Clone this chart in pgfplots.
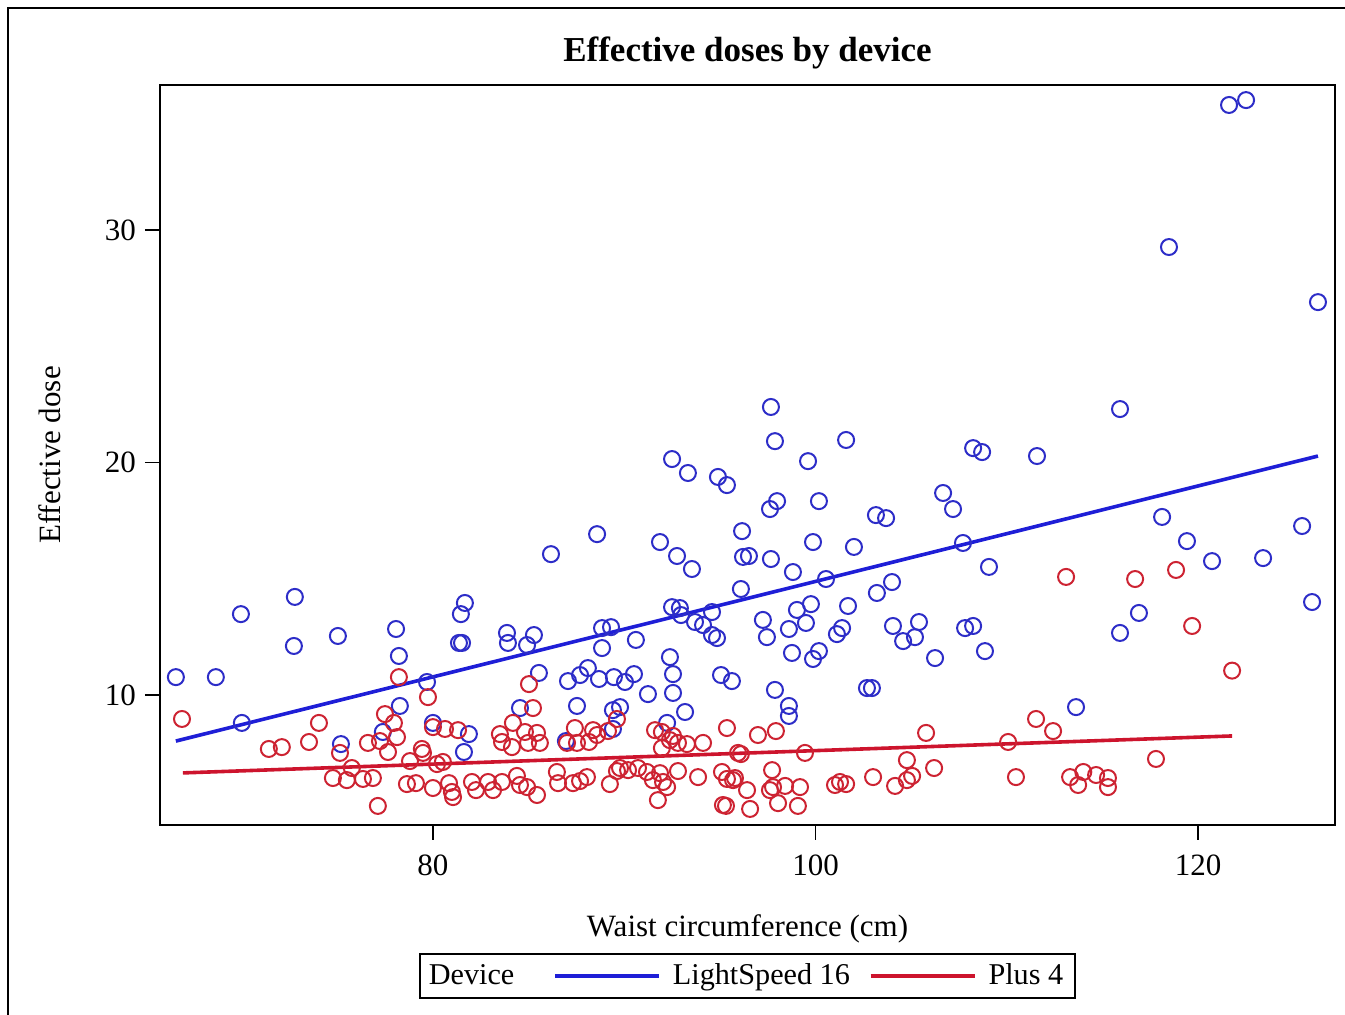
\documentclass[border=0pt]{standalone}
\usepackage{fontspec}
\setmainfont{Liberation Serif}
\usepackage{pgfplots}
\usepackage{pgfplotstable}
\pgfplotsset{compat=1.18}
\definecolor{bluem}{RGB}{45,45,200}
\definecolor{bluel}{RGB}{30,30,215}
\definecolor{redm}{RGB}{205,35,50}
\definecolor{redl}{RGB}{205,20,45}
\pgfplotstableread{
x y
66.56 10.77
68.65 10.77
69.96 13.48
70.01 8.80
72.78 14.22
72.73 12.11
75.03 12.54
75.19 7.89
78.07 12.84
78.22 11.68
78.27 9.53
79.69 10.56
80.00 8.80
77.38 8.41
81.46 13.48
81.67 13.96
81.36 12.24
81.52 12.24
81.62 7.55
81.88 8.32
83.87 12.67
83.92 12.24
84.92 12.15
85.28 12.58
85.54 10.95
86.17 16.06
84.55 9.44
86.95 8.02
87.06 10.60
87.53 9.53
87.69 10.86
88.10 11.16
88.58 16.92
88.84 12.88
88.84 12.02
88.68 10.69
89.31 12.92
89.46 10.77
89.41 9.35
89.78 9.48
89.41 8.54
90.04 10.56
90.61 12.37
90.51 10.90
91.24 10.04
91.87 16.58
92.24 8.80
92.39 11.63
92.50 20.15
92.50 13.78
92.55 10.90
92.55 10.09
92.76 15.98
92.91 13.74
92.97 13.44
93.18 9.27
93.33 19.55
93.54 15.42
93.70 13.14
94.12 13.01
94.59 13.57
94.59 12.58
94.85 12.45
94.90 19.38
95.06 10.86
95.37 19.03
95.63 10.60
96.10 14.56
96.16 17.05
96.21 15.94
96.52 15.98
97.25 13.23
97.46 12.49
97.67 22.39
97.62 18.00
97.67 15.85
97.88 20.92
97.88 10.22
97.99 18.34
98.61 12.84
98.61 9.53
98.61 9.10
98.77 11.81
98.82 15.29
99.03 13.66
99.50 13.10
99.61 20.06
99.76 13.91
99.87 16.58
99.87 11.55
100.18 11.89
100.18 18.34
100.55 14.99
101.12 12.62
101.39 12.88
101.60 20.97
101.70 13.83
102.01 16.37
102.69 10.30
102.95 10.30
103.16 17.74
103.69 17.61
104.00 14.86
103.21 14.39
104.05 12.97
104.58 12.32
105.20 12.49
105.41 13.14
106.25 11.59
106.67 18.69
107.19 18.00
107.71 16.54
107.82 12.88
108.24 12.97
108.24 20.62
108.71 20.45
108.86 11.89
109.07 15.51
111.58 20.28
113.62 9.48
115.92 22.30
115.92 12.67
116.91 13.53
118.12 17.66
118.48 29.27
119.42 16.62
120.73 15.76
121.62 35.38
122.51 35.59
123.40 15.89
125.44 17.27
125.96 14.00
126.27 26.90
}\bluedata
\pgfplotstableread{
x y
66.88 8.97
71.42 7.68
72.10 7.76
73.52 7.98
74.04 8.80
75.14 7.51
76.60 7.94
77.23 8.02
77.65 7.55
75.76 6.86
74.77 6.43
75.50 6.34
76.34 6.39
76.86 6.43
77.12 5.23
78.22 10.77
77.49 9.18
77.96 8.80
78.12 8.19
79.74 9.91
78.80 7.16
79.42 7.68
79.48 7.51
78.64 6.17
79.11 6.21
80.00 6.00
80.21 7.03
80.52 7.12
80.84 6.21
80.99 5.83
80.00 8.62
80.63 8.54
81.31 8.49
82.04 6.26
82.25 5.91
82.88 6.26
83.14 5.91
83.61 6.26
84.39 6.52
84.55 6.13
84.92 6.04
85.44 5.70
85.02 10.47
85.23 9.44
84.18 8.80
83.50 8.32
83.61 7.98
84.13 7.76
84.81 8.41
85.44 8.37
85.59 7.94
84.97 7.94
87.42 8.58
87.01 7.94
87.53 7.94
88.37 8.49
88.58 8.28
88.16 7.98
89.15 8.45
89.62 8.97
91.61 8.49
91.97 8.41
92.55 8.24
92.39 8.06
92.81 7.94
93.28 7.89
91.97 7.72
94.12 7.94
95.37 8.58
95.95 7.51
86.48 6.69
86.54 6.21
87.32 6.21
87.69 6.30
88.05 6.47
89.25 6.17
89.62 6.73
89.78 6.86
90.20 6.77
90.72 6.86
91.19 6.69
91.50 6.34
91.87 6.64
92.03 6.26
92.24 6.04
92.81 6.73
91.76 5.48
93.86 6.47
95.11 6.69
95.37 6.39
95.69 6.34
95.16 5.27
96.99 8.28
97.93 8.45
96.10 7.46
99.45 7.51
97.73 6.77
97.78 6.04
97.62 5.91
98.41 6.09
99.19 6.04
96.42 5.91
95.32 5.23
96.58 5.10
98.04 5.35
99.08 5.23
95.79 6.43
101.02 6.13
101.28 6.26
101.60 6.17
103.01 6.47
104.16 6.09
104.78 6.34
105.05 6.52
104.78 7.20
105.78 8.37
106.20 6.86
110.07 7.98
110.48 6.47
111.53 8.97
112.42 8.45
113.10 15.08
116.71 14.99
118.85 15.38
119.69 12.97
121.78 11.05
113.31 6.47
113.73 6.13
114.00 6.69
114.67 6.56
115.29 6.43
115.29 6.04
117.80 7.25
81.05 5.61
}\reddata
\begin{document}
\begin{tikzpicture}
\path[use as bounding box] (0,0) rectangle (672.5pt,507.5pt);
\draw[line width=1.2pt] (4pt,0) -- (4pt,503.5pt) -- (672.5pt,503.5pt);
\begin{axis}[
  at={(80pt,95pt)}, anchor=south west,
  scale only axis, width=587.5pt, height=370pt,
  xmin=65.73, xmax=127.16, ymin=4.41, ymax=36.24,
  xtick={80,100,120}, ytick={10,20,30},
  axis line style={line width=1pt},
  tick style={line width=0.8pt, black},
  tick align=outside, major tick length=7.5pt,
  xtick pos=bottom, ytick pos=left,
  /pgf/number format/assume math mode=true,
  tick label style={font=\fontsize{15.5}{18}\selectfont},
  xticklabel style={yshift=-4pt},
  yticklabel style={xshift=-1pt},
  label style={font=\fontsize{15.5}{18}\selectfont},
  xlabel={Waist circumference (cm)},
  ylabel={Effective dose},
  xlabel style={at={(axis description cs:0.5,-0.14)}, anchor=center},
  ylabel style={at={(axis description cs:-0.0936,0.5)}, anchor=center},
  title={\textbf{Effective doses by device}},
  title style={font=\fontsize{17.5}{20}\selectfont, at={(axis description cs:0.5,1.027)}, anchor=center},
  legend columns=-1,
  legend style={at={(0.5,-0.204)}, anchor=center, draw=black, line width=1pt,
    font=\fontsize{15.1}{18}\selectfont, inner xsep=1pt, inner ysep=2.8pt,
    /tikz/every even column/.append style={column sep=7.5pt},
    /tikz/every odd column/.append style={column sep=4pt}},
  legend image code/.code={\draw[#1] (0pt,0pt) -- (52pt,0pt);},
]
\addlegendimage{empty legend}
\addlegendentry{\hspace*{-2.5pt}Device\hspace*{10pt}}
\addplot[only marks, mark=o, mark size=4pt, draw=bluem, line width=1pt, forget plot] table[x=x,y=y] {\bluedata};
\addplot[only marks, mark=o, mark size=4pt, draw=redm, line width=1pt, forget plot] table[x=x,y=y] {\reddata};
\addplot[bluel, line width=1.8pt] coordinates {(66.56,8.02) (126.27,20.28)};
\addlegendentry{LightSpeed 16}
\addplot[redl, line width=1.8pt] coordinates {(66.93,6.65) (121.78,8.24)};
\addlegendentry{Plus 4\hspace*{3pt}}
\end{axis}
\end{tikzpicture}
\end{document}
